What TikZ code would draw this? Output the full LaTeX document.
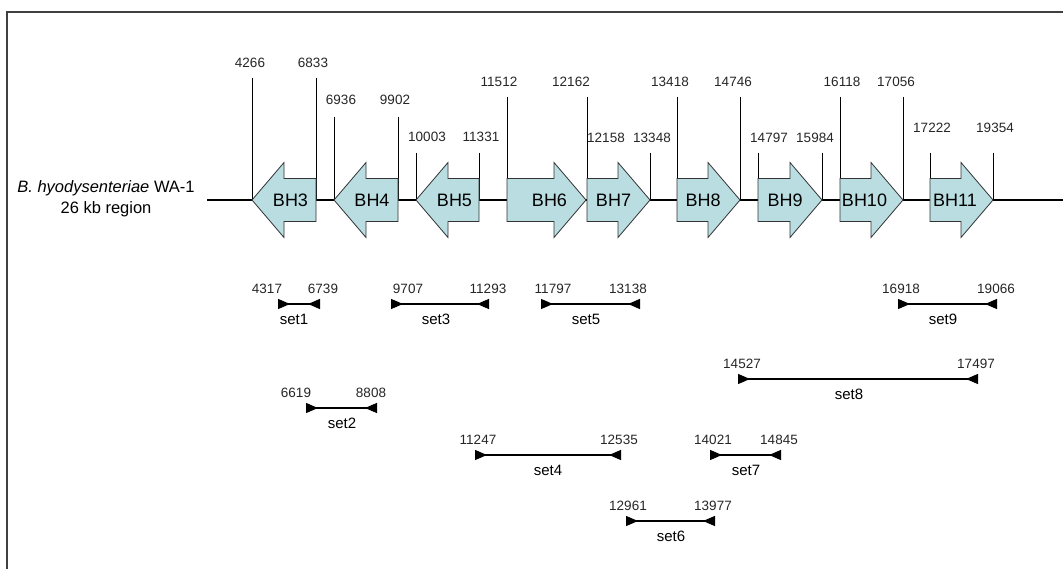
\documentclass[tikz,border=0pt]{standalone}
\usepackage{fontspec}
\setmainfont{Liberation Sans}
\usetikzlibrary{arrows.meta}
\definecolor{genecol}{RGB}{185,221,225}

\tikzset{
  genebox/.style={draw=black!80, line width=0.8pt, fill=genecol},
  genelabel/.style={font=\fontsize{18}{20}\selectfont},
  poslabel/.style={font=\fontsize{13.5}{15}\selectfont, text=black!85},
  setlabel/.style={font=\fontsize{15}{17}\selectfont},
  tickline/.style={line width=0.9pt},
  primer/.style={line width=1.2pt,
    {Triangle[reversed,length=12pt,width=10pt]}-{Triangle[reversed,length=12pt,width=10pt]}},
}

\begin{document}
\begin{tikzpicture}[x=1pt, y=-1pt]
  \useasboundingbox (0,0) rectangle (1063,569);
  % frame
  \coordinate (fa) at (7,569);
  \coordinate (fb) at (7,12);
  \coordinate (fc) at (1063,12);
  \draw[line width=2pt, black!75] (fa) -- (fb) -- (fc);

  % backbone
  \node[align=center, font=\fontsize{16.5}{21}\selectfont] (region) at (106,198.5)
    {\textit{B. hyodysenteriae} WA-1\\26 kb region};
  \coordinate (bbl) at (207,200);
  \coordinate (bbr) at (1063,200);
  \draw[line width=2pt] (bbl) -- (bbr);

  % ticks
  \foreach \x/\t in {252/78, 316/78, 334/117, 398/117, 416/153, 479/153,
      507/97, 587/97, 650/153, 677/97, 740/97, 758/153, 822/153,
      840/97, 903/97, 930/153, 993/153}
  {
    \coordinate (top\x) at (\x,\t);
    \coordinate (bot\x) at (\x,200);
    \draw[tickline] (top\x) -- (bot\x);
  }
  \foreach \x/\y/\t in {250/63/4266, 313/63/6833, 341/100/6936, 395/100/9902,
      427/137/10003, 481/137/11331, 499/82/11512, 571/82/12162,
      606/138/12158, 652/138/13348, 670/82/13418, 733/82/14746,
      769/138/14797, 815/138/15984, 842/82/16118, 896/82/17056,
      932/128/17222, 995/128/19354}
    \node[poslabel] (p\t) at (\x,\y) {\t};

  % genes on the minus strand
  \foreach \l/\r in {252/316, 334/398, 416/479}
    \draw[genebox] (\r,178.5) -- (\l+32,178.5) -- (\l+32,162.5) -- (\l,200)
      -- (\l+32,237.5) -- (\l+32,221.5) -- (\r,221.5) -- cycle;
  % genes on the plus strand
  \foreach \l/\r in {507/586, 587/650, 677/740, 758/822, 840/903, 930/993}
    \draw[genebox] (\l,178.5) -- (\r-32,178.5) -- (\r-32,162.5) -- (\r,200)
      -- (\r-32,237.5) -- (\r-32,221.5) -- (\l,221.5) -- cycle;
  \foreach \x/\g in {290.5/3, 372/4, 454.5/5, 549.5/6, 613.5/7,
      703/8, 785/9, 864.5/10, 955/11}
    \node[genelabel] (bh\g) at (\x,200) {BH\g};

  % primer sets
  \foreach \n/\a/\b/\y/\xa/\la/\xb/\lb/\xs in {
      1/278/320/304/267/4317/323/6739/294,
      2/306/377/408/296/6619/371/8808/342,
      3/391/489/304/408/9707/488/11293/436,
      4/475/621/455/478/11247/619/12535/548,
      5/541/640/304/553/11797/628/13138/586,
      6/626/715/521/628/12961/713/13977/671,
      7/710/781/455/713/14021/779/14845/746,
      8/738/978/379/742/14527/976/17497/849,
      9/898/997/304/901/16918/996/19066/943}
  {
    \coordinate (s\n a) at (\a,\y);
    \coordinate (s\n b) at (\b,\y);
    \draw[primer] (s\n a) -- (s\n b);
    \node[poslabel] (s\n la) at (\xa,\y-15) {\la};
    \node[poslabel] (s\n lb) at (\xb,\y-15) {\lb};
    \node[setlabel] (set\n) at (\xs,\y+15) {set\n};
  }
\end{tikzpicture}
\end{document}
